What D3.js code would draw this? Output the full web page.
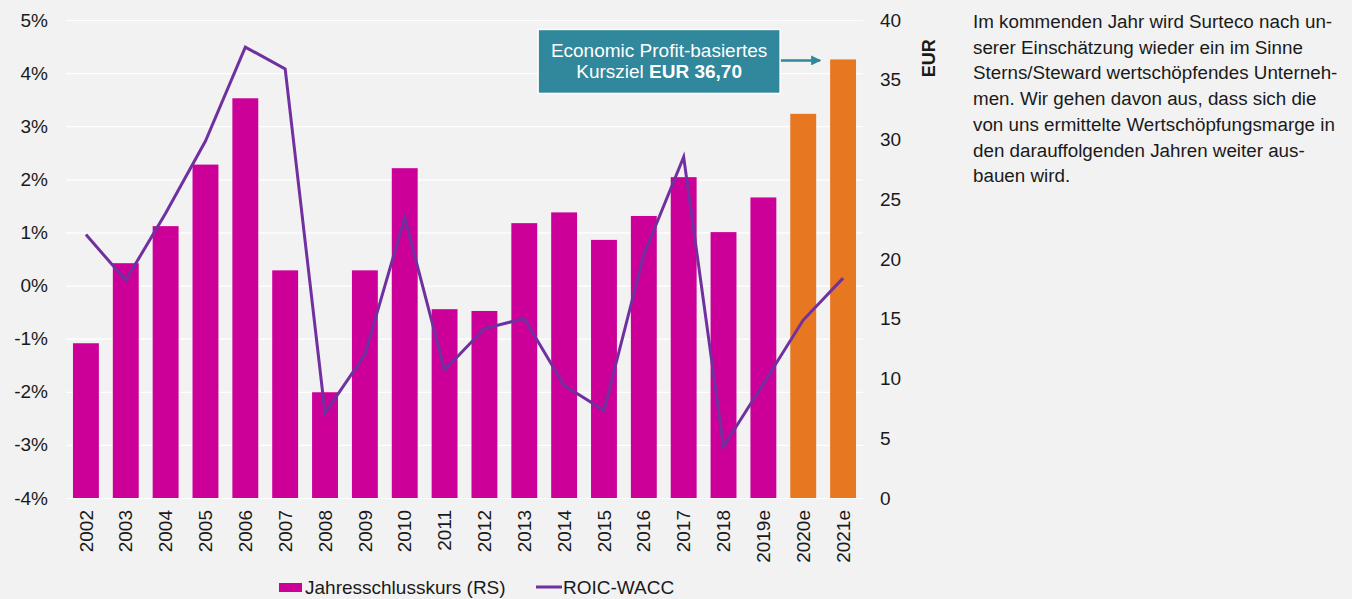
<!DOCTYPE html>
<html>
<head>
<meta charset="utf-8">
<script src="https://cdn.jsdelivr.net/npm/d3@7"></script>
<style>
  body { margin: 0; background: #f2f2f2; }
  svg { display: block; font-family: Arial, "Liberation Sans", sans-serif; }
</style>
</head>
<body>
<div id="chart"></div>
<script>
const years = ["2002", "2003", "2004", "2005", "2006", "2007", "2008", "2009", "2010", "2011",
  "2012", "2013", "2014", "2015", "2016", "2017", "2018", "2019e", "2020e", "2021e"];
// Jahresschlusskurs in EUR (right scale)
const closingPrice = [12.95, 19.65, 22.75, 27.9, 33.45, 19.05, 8.85, 19.05, 27.6, 15.8,
  15.65, 23.0, 23.9, 21.6, 23.6, 26.85, 22.25, 25.15, 32.15, 36.7];
// ROIC-WACC in percent (left scale)
const roicWacc = [0.96, 0.1, 1.36, 2.72, 4.49, 4.08, -2.4, -1.3, 1.28, -1.59,
  -0.81, -0.62, -1.88, -2.35, 0.58, 2.42, -3.03, -1.85, -0.65, 0.14];
const estimateYears = ["2020e", "2021e"];
const leftTicks = [-4, -3, -2, -1, 0, 1, 2, 3, 4, 5];
const rightTicks = [0, 5, 10, 15, 20, 25, 30, 35, 40];
const targetPrice = 36.7;
const commentLines = [
  "Im kommenden Jahr wird Surteco nach un-",
  "serer Einschätzung wieder ein im Sinne",
  "Sterns/Steward wertschöpfendes Unterneh-",
  "men. Wir gehen davon aus, dass sich die",
  "von uns ermittelte Wertschöpfungsmarge in",
  "den darauffolgenden Jahren weiter aus-",
  "bauen wird."
];

const width = 1352;
const height = 599;
const margin = { top: 20, right: 489, bottom: 101, left: 66 };
const fontSize = "19px";
const textColor = "#1a1a1a";
const barColor = "#cc0099";
const estimateColor = "#e87722";
const lineColor = "#7030a0";
const boxColor = "#31879b";

const svg = d3.select("#chart").append("svg")
  .attr("width", width)
  .attr("height", height);

svg.append("rect")
  .attr("width", width)
  .attr("height", height)
  .attr("fill", "#f2f2f2");

const innerW = width - margin.left - margin.right;
const innerH = height - margin.top - margin.bottom;

const chart = svg.append("g")
  .attr("transform", `translate(${margin.left},${margin.top})`);

const x = d3.scaleBand()
  .domain(years)
  .range([0, innerW])
  .paddingInner(0.35)
  .paddingOuter(0.175);

const yLeft = d3.scaleLinear().domain([-4, 5]).range([innerH, 0]);
const yRight = d3.scaleLinear().domain([0, 40]).range([innerH, 0]);

// grid lines
chart.append("g")
  .call(d3.axisLeft(yLeft).tickValues(leftTicks).tickSize(-innerW).tickFormat(""))
  .call((g) => g.select(".domain").remove())
  .call((g) => g.selectAll("line").attr("stroke", "#ffffff").attr("stroke-width", 1.2));

// left axis
chart.append("g")
  .call(d3.axisLeft(yLeft).tickValues(leftTicks).tickSize(0).tickPadding(18)
    .tickFormat((d) => `${d}%`))
  .call((g) => g.select(".domain").remove())
  .call((g) => g.selectAll("text")
    .attr("fill", textColor)
    .style("font-size", fontSize)
    .style("font-family", "Arial, 'Liberation Sans', sans-serif"));

// right axis
chart.append("g")
  .attr("transform", `translate(${innerW},0)`)
  .call(d3.axisRight(yRight).tickValues(rightTicks).tickSize(0).tickPadding(17))
  .call((g) => g.select(".domain").remove())
  .call((g) => g.selectAll("text")
    .attr("fill", textColor)
    .style("font-size", fontSize)
    .style("font-family", "Arial, 'Liberation Sans', sans-serif"));

chart.append("text")
  .attr("transform", `translate(${innerW + 66},${yRight(36.8)}) rotate(-90)`)
  .attr("text-anchor", "middle")
  .attr("dy", "0.35em")
  .attr("fill", textColor)
  .style("font-size", "18px")
  .style("font-weight", "bold")
  .text("EUR");

// bottom axis
chart.append("g")
  .attr("transform", `translate(0,${innerH})`)
  .call(d3.axisBottom(x).tickSize(0).tickPadding(0))
  .call((g) => g.select(".domain").remove())
  .call((g) => g.selectAll("text")
    .attr("fill", textColor)
    .style("font-size", fontSize)
    .style("font-family", "Arial, 'Liberation Sans', sans-serif")
    .attr("text-anchor", "end")
    .attr("transform", "rotate(-90)")
    .attr("x", -12)
    .attr("y", 0)
    .attr("dy", "0.35em"));

// bars
const barData = years.map((year, i) => ({ year, value: closingPrice[i] }));

chart.selectAll("rect.bar")
  .data(barData)
  .enter()
  .append("rect")
  .attr("class", "bar")
  .attr("x", (d) => x(d.year))
  .attr("y", (d) => yRight(d.value))
  .attr("width", x.bandwidth())
  .attr("height", (d) => innerH - yRight(d.value))
  .attr("fill", (d) => estimateYears.includes(d.year) ? estimateColor : barColor);

// line
const lineData = years.map((year, i) => ({ year, value: roicWacc[i] }));

chart.append("path")
  .datum(lineData)
  .attr("fill", "none")
  .attr("stroke", lineColor)
  .attr("stroke-width", 3)
  .attr("stroke-linejoin", "miter")
  .attr("d", d3.line()
    .x((d) => x(d.year) + x.bandwidth() / 2)
    .y((d) => yLeft(d.value)));

// annotation box for the price target
const arrowEndX = x("2021e") - 10;
const arrowY = yRight(targetPrice) + 1;
const boxW = 242;
const boxH = 64;
const boxX = arrowEndX - 40 - boxW;
const boxY = arrowY - 31;

svg.append("defs").append("marker")
  .attr("id", "arrow")
  .attr("viewBox", "0 0 10 10")
  .attr("refX", 9)
  .attr("refY", 5)
  .attr("markerWidth", 4)
  .attr("markerHeight", 4)
  .attr("orient", "auto")
  .append("path")
  .attr("d", "M0,0 L10,5 L0,10 z")
  .attr("fill", boxColor);

chart.append("line")
  .attr("x1", boxX + boxW)
  .attr("x2", arrowEndX)
  .attr("y1", arrowY)
  .attr("y2", arrowY)
  .attr("stroke", boxColor)
  .attr("stroke-width", 2.5)
  .attr("marker-end", "url(#arrow)");

chart.append("rect")
  .attr("x", boxX)
  .attr("y", boxY)
  .attr("width", boxW)
  .attr("height", boxH)
  .attr("fill", boxColor)
  .attr("stroke", "#ffffff")
  .attr("stroke-width", 1.5);

const boxText = chart.append("text")
  .attr("x", boxX + boxW / 2)
  .attr("y", boxY + 28)
  .attr("text-anchor", "middle")
  .attr("fill", "#ffffff")
  .style("font-size", fontSize);

boxText.append("tspan").text("Economic Profit-basiertes");
const line2 = boxText.append("tspan")
  .attr("x", boxX + boxW / 2)
  .attr("dy", 21);
line2.append("tspan").text("Kursziel ");
line2.append("tspan").style("font-weight", "bold").text("EUR 36,70");

// legend
const legend = svg.append("g")
  .attr("transform", `translate(279, 587)`);

legend.append("rect")
  .attr("x", 0)
  .attr("y", -4)
  .attr("width", 23)
  .attr("height", 9)
  .attr("fill", barColor);

legend.append("text")
  .attr("x", 26)
  .attr("dy", "0.35em")
  .attr("fill", textColor)
  .style("font-size", fontSize)
  .text("Jahresschlusskurs (RS)");

legend.append("line")
  .attr("x1", 257)
  .attr("x2", 283)
  .attr("stroke", lineColor)
  .attr("stroke-width", 3);

legend.append("text")
  .attr("x", 284)
  .attr("dy", "0.35em")
  .attr("fill", textColor)
  .style("font-size", fontSize)
  .text("ROIC-WACC");

// comment text on the right
svg.append("g")
  .selectAll("text")
  .data(commentLines)
  .enter()
  .append("text")
  .attr("x", 973)
  .attr("y", (d, i) => 28 + i * 25.7)
  .attr("fill", textColor)
  .style("font-size", "18.8px")
  .text((d) => d);
</script>
</body>
</html>
